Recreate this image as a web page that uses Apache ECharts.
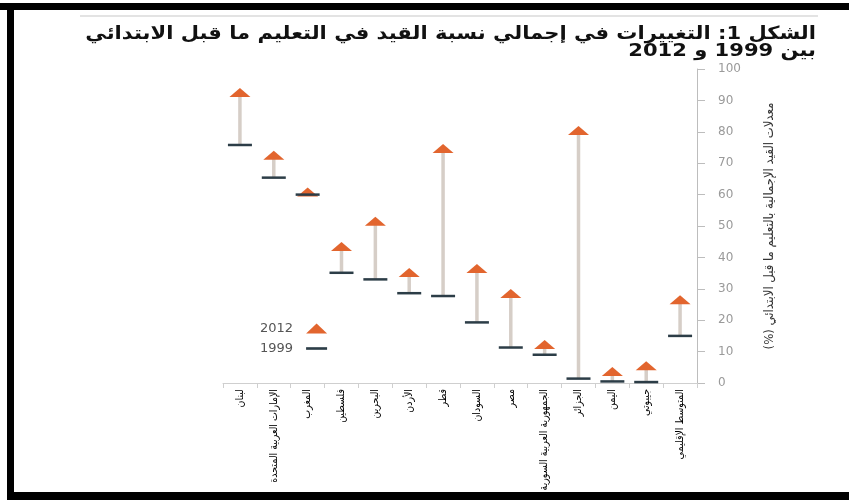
<!DOCTYPE html>
<html>
<head>
<meta charset="utf-8">
<script src="https://cdn.jsdelivr.net/npm/echarts@6/dist/echarts.min.js"></script>
<style>
html,body{margin:0;padding:0;background:#fff;}
#main{width:849px;height:500px;}
</style>
</head>
<body>
<div id="main"></div>
<script>
var categories = ['لبنان','الإمارات العربية المتحدة','المغرب','فلسطين','البحرين','الأردن','قطر','السودان','مصر','الجمهورية العربية السورية','الجزائر','اليمن','جيبوتي','المتوسط الإقليمي'];
var values1999 = [75.8, 65.4, 60.0, 35.1, 33.0, 28.6, 27.7, 19.3, 11.3, 9.0, 1.4, 0.5, 0.3, 15.0];
var values2012 = [92.5, 72.5, 60.8, 43.5, 51.5, 35.2, 74.7, 36.5, 28.5, 12.3, 80.4, 3.7, 5.5, 26.5];
var yTicks = [0, 10, 20, 30, 40, 50, 60, 70, 80, 90, 100];
var titleLines = ['الشكل 1: التغييرات في إجمالي نسبة القيد في التعليم ما قبل الابتدائي', 'بين 1999 و 2012'];
var yAxisName = 'معدلات القيد الإجمالية بالتعليم ما قبل الابتدائي (%)';

function rtl(s) { return '\u202B' + s + '\u202C'; }
var stemData = categories.map(function (c, i) { return [i, values1999[i], values2012[i]]; });

var chart = echarts.init(document.getElementById('main'), null, {renderer: 'canvas'});
chart.setOption({
  backgroundColor: '#fff',
  animation: false,
  graphic: [
    {type: 'rect', shape: {x: 0, y: 3, width: 849, height: 7}, style: {fill: '#000'}, silent: true},
    {type: 'rect', shape: {x: 7, y: 3, width: 7, height: 497}, style: {fill: '#000'}, silent: true},
    {type: 'rect', shape: {x: 7, y: 492, width: 842, height: 8}, style: {fill: '#000'}, silent: true},
    {type: 'rect', shape: {x: 80, y: 15, width: 738, height: 2}, style: {fill: '#e3e3e3'}, silent: true},
    {type: 'text', x: 816, y: 34, scaleX: 1.17, silent: true, style: {text: rtl(titleLines[0]), align: 'right', verticalAlign: 'middle', fill: '#111', font: 'bold 18px "DejaVu Sans"'}},
    {type: 'text', x: 816, y: 51, scaleX: 1.17, silent: true, style: {text: rtl(titleLines[1]), align: 'right', verticalAlign: 'middle', fill: '#111', font: 'bold 18px "DejaVu Sans"'}}
  ],
  legend: {
    orient: 'vertical',
    left: 255,
    top: 317,
    align: 'right',
    itemWidth: 21,
    itemHeight: 10,
    itemGap: 7,
    textStyle: {color: '#555', fontSize: 13, fontFamily: 'DejaVu Sans', padding: [0, 8, 0, 0]},
    data: [
      {name: '2012', icon: 'triangle'},
      {name: '1999', icon: 'path://M0,0H24V3H0Z'}
    ]
  },
  grid: {left: 223, right: 152, top: 69, bottom: 117, outerBoundsMode: 'none', containLabel: false},
  xAxis: {
    type: 'category',
    data: categories,
    axisLine: {lineStyle: {color: '#cfcfcf', width: 1}},
    axisTick: {show: true, length: 5, lineStyle: {color: '#cfcfcf'}},
    axisLabel: {
      rotate: 90, interval: 0, margin: 6,
      color: '#000', fontSize: 10.5, fontFamily: 'DejaVu Sans Condensed'
    }
  },
  yAxis: {
    type: 'value',
    position: 'right',
    min: 0, max: 100, interval: 10,
    splitLine: {show: false},
    axisLine: {show: true, lineStyle: {color: '#bdbdbd'}},
    axisTick: {show: true, length: 8, lineStyle: {color: '#bdbdbd'}},
    axisLabel: {margin: 21, color: '#9a9a9a', fontSize: 12, fontFamily: 'DejaVu Sans'},
    name: rtl(yAxisName),
    nameLocation: 'middle',
    nameRotate: 90,
    nameGap: 66,
    nameTextStyle: {color: '#333', fontSize: 13, fontFamily: 'DejaVu Sans Condensed'}
  },
  series: [
    {
      name: 'stem',
      type: 'custom',
      z: 2,
      data: stemData,
      encode: {x: 0, y: [1, 2]},
      renderItem: function (params, api) {
        var p1 = api.coord([api.value(0), api.value(1)]);
        var p2 = api.coord([api.value(0), api.value(2)]);
        return {
          type: 'line',
          shape: {x1: p1[0], y1: p1[1], x2: p2[0], y2: p2[1]},
          style: {stroke: '#d6cec7', lineWidth: 3.5}
        };
      }
    },
    {
      name: '2012',
      type: 'scatter',
      z: 3,
      symbol: 'triangle',
      symbolSize: [21, 9],
      itemStyle: {color: '#e2652e', opacity: 1},
      data: values2012
    },
    {
      name: '1999',
      type: 'scatter',
      z: 4,
      symbol: 'rect',
      symbolSize: [24, 2.5],
      itemStyle: {color: '#2c3d47', opacity: 1},
      data: values1999
    }
  ]
});
</script>
</body>
</html>
